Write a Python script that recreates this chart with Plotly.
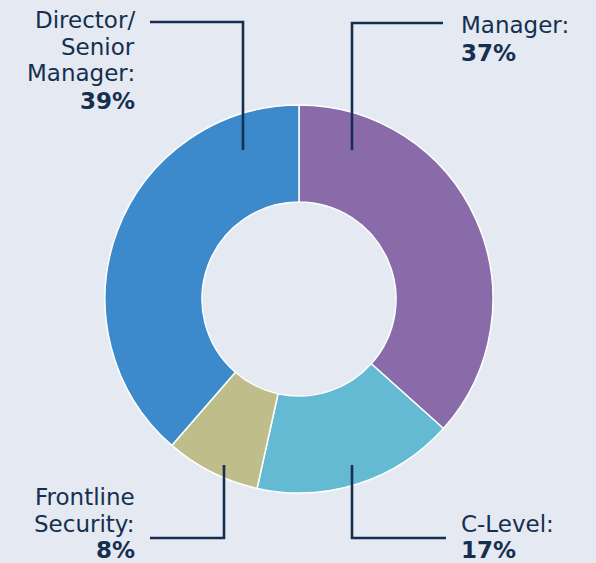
import plotly.graph_objects as go

categories = ["Manager", "C-Level", "Frontline Security", "Director/ Senior Manager"]
values = [37, 17, 8, 39]
colors = ["#8A6BAA", "#64BAD3", "#BFBE8B", "#3C8ACB"]

W, H = 596, 563
BG = "#E4E9F2"
INK = "#15304F"

fig = go.Figure(go.Pie(
    labels=categories, values=values, sort=False, direction="clockwise", rotation=0,
    hole=0.5, marker=dict(colors=colors, line=dict(color="white", width=1.5)),
    textinfo="none", hoverinfo="label+percent", showlegend=False,
    domain=dict(x=[105 / W, 493 / W], y=[1 - 493 / H, 1 - 105 / H]),
))

def px(x):
    return x / W

def py(y):
    return 1 - y / H

annos = []
def label(lines, x, ys, anchor):
    for t, y in zip(lines, ys):
        annos.append(dict(text=t, x=px(x), y=py(y), xref="paper", yref="paper",
                          xanchor=anchor, yanchor="middle", showarrow=False,
                          font=dict(family="DejaVu Sans", size=23, color=INK)))

pct = [f"<b>{v}%</b>" for v in values]
label(["Director/", "Senior", "Manager:", pct[3]], 137, [20, 47, 73, 101], "right")
label(["Manager:", pct[0]], 459, [25, 53], "left")
label(["Frontline", "Security:", pct[2]], 137, [497, 524, 550], "right")
label(["C-Level:", pct[1]], 459, [524, 550], "left")

shapes = []
def path(pts):
    d = "M " + " L ".join(f"{px(x)},{py(y)}" for x, y in pts)
    shapes.append(dict(type="path", path=d, xref="paper", yref="paper",
                       line=dict(color=INK, width=2.6)))

path([(150, 22), (243, 22), (243, 150)])
path([(443, 23), (352, 23), (352, 150)])
path([(150, 538), (224, 538), (224, 465)])
path([(446, 538), (352, 538), (352, 465)])

fig.update_layout(width=W, height=H, margin=dict(l=0, r=0, t=0, b=0),
                  paper_bgcolor=BG, plot_bgcolor=BG, annotations=annos, shapes=shapes)
fig.write_html("out.html", config={"displayModeBar": False},
               post_script="document.body.style.margin='0';document.body.style.background='%s';" % BG)
